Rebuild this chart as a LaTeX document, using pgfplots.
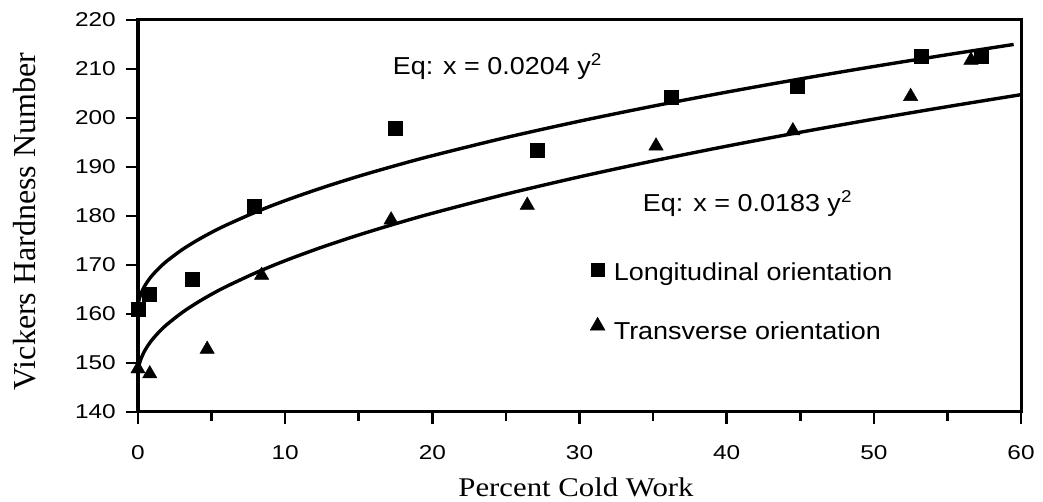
\documentclass[border=0pt]{standalone}
\usepackage{fontspec}
\setmainfont{Liberation Serif}
\newfontfamily\ticksans[FakeStretch=1.22]{Liberation Sans}
\newfontfamily\notesans[FakeStretch=1.1]{Liberation Sans}
\newfontfamily\labelserif[FakeStretch=1.14]{Liberation Serif}
\usepackage{pgfplots}
\usepackage{pgfplotstable}
\pgfplotsset{compat=1.18}

% legend symbols: a mark followed by a fixed gap before the text
\pgfplotsset{
  sqlegend/.style={legend image code/.code={%
    \path (0pt,0pt) (23pt,0pt);
    \draw[##1, mark size=6.5pt] plot coordinates {(7pt,4.5pt)};}},
  trilegend/.style={legend image code/.code={%
    \path (0pt,0pt) (23pt,0pt);
    \draw[##1, mark size=8.6pt] plot coordinates {(7pt,7pt)};}},
}

% measured hardness, longitudinal specimens
\pgfplotstableread{
x    hv
0.0  161
0.75 164
3.7  167
7.9  182
17.5 198
27.1 193.4
36.25 204.3
44.8 206.4
53.2 212.6
57.3 212.6
}\longdata

% measured hardness, transverse specimens
\pgfplotstableread{
x    hv
0.0  148.8
0.8  147.8
4.7  152.8
8.4  167.9
17.2 179.2
26.45 182.2
35.2 194.3
44.5 197.4
52.5 204.4
56.6 211.8
}\transdata

% fitted curve x = 0.0204 (HV-161)^2, tabulated
\pgfplotstableread{
x    hv
0    161.00
0.05 162.57
0.1  163.21
0.2  164.13
0.4  165.43
0.7  166.86
1    168.00
1.5  169.57
2    170.90
3    173.13
4    175.00
5    176.66
6    178.15
8    180.80
10   183.14
12.5 185.75
15   188.12
17.5 190.29
20   192.31
25   196.01
30   199.35
35   202.42
40   205.28
45   207.97
50   210.51
55   212.92
59.5 215.01
}\longfit

% fitted curve x = 0.0183 (HV-147.5)^2, tabulated
\pgfplotstableread{
x    hv
0    147.50
0.05 149.15
0.1  149.84
0.2  150.81
0.4  152.18
0.7  153.68
1    154.89
1.5  156.55
2    157.95
3    160.30
4    162.28
5    164.03
6    165.61
8    168.41
10   170.88
12.5 173.64
15   176.13
17.5 178.42
20   180.56
25   184.46
30   187.99
35   191.23
40   194.25
45   197.09
50   199.77
55   202.32
60   204.76
}\transfit

\begin{document}
\begin{tikzpicture}
\begin{axis}[
  width=883pt, height=392pt, scale only axis,
  xmin=0, xmax=60, ymin=140, ymax=220,
  xtick={0,10,...,60}, minor xtick={5,15,...,55},
  ytick={140,150,...,220},
  tick align=outside, tick pos=left,
  major tick length=12pt, minor tick length=9pt,
  tick style={black, line width=2.6pt},
  axis line style={black, line width=3pt},
  /pgf/number format/assume math mode=true,
  tick label style={font=\ticksans\fontsize{20}{24}\selectfont},
  xticklabel style={anchor=north, inner sep=0pt, yshift=-21pt},
  yticklabel style={anchor=east, inner sep=0pt, xshift=-10pt},
  xlabel={Percent Cold Work},
  xlabel style={font=\labelserif\fontsize{27}{30}\selectfont,
    at={(axis description cs:0.496,0)}, anchor=base, yshift=-85pt, inner sep=0pt},
  ylabel={Vickers Hardness Number},
  ylabel style={font=\fontsize{32}{36}\selectfont,
    at={(axis description cs:-0.1166,0.486)}, anchor=base, inner sep=0pt},
  clip=false,
  legend style={at={(axis cs:30.71,170.6)}, anchor=north west,
    draw=none, fill=none, inner sep=0pt, row sep=32pt, column sep=0pt,
    font=\notesans\fontsize{24.5}{29}\selectfont,
    nodes={inner sep=0pt, text height=18pt, text depth=5pt}},
  legend cell align=left,
]
\coordinate (O) at (rel axis cs:0,0);
\coordinate (T) at (rel axis cs:1,1);

\addplot[black, line width=3.4pt, smooth, forget plot] table[x=x, y=hv] {\longfit};
\addplot[black, line width=3.4pt, smooth, forget plot] table[x=x, y=hv] {\transfit};

\addplot[only marks, mark=square*, mark size=7pt, black, sqlegend]
  table[x=x, y=hv] {\longdata};
\addlegendentry{Longitudinal orientation}
\addplot[only marks, mark=triangle*, mark size=8.3pt, black, trilegend]
  table[x=x, y=hv] {\transdata};
\addlegendentry{Transverse orientation}

\node[anchor=base west, inner sep=0pt, font=\notesans\fontsize{24.5}{29}\selectfont]
  at (axis cs:17.3,208.8) {Eq: x = 0.0204 y\textsuperscript{2}};
\node[anchor=base west, inner sep=0pt, font=\notesans\fontsize{24.5}{29}\selectfont]
  at (axis cs:34.3,180.9) {Eq: x = 0.0183 y\textsuperscript{2}};
\end{axis}
% plot frame, all four sides
\draw[black, line width=3pt] (O) -- (O|-T) -- (T) -- (T|-O) -- cycle;
\pgfresetboundingbox
\path ([shift={(-138pt,-90pt)}]O) rectangle ++(1043pt,502pt);
\end{tikzpicture}
\end{document}
